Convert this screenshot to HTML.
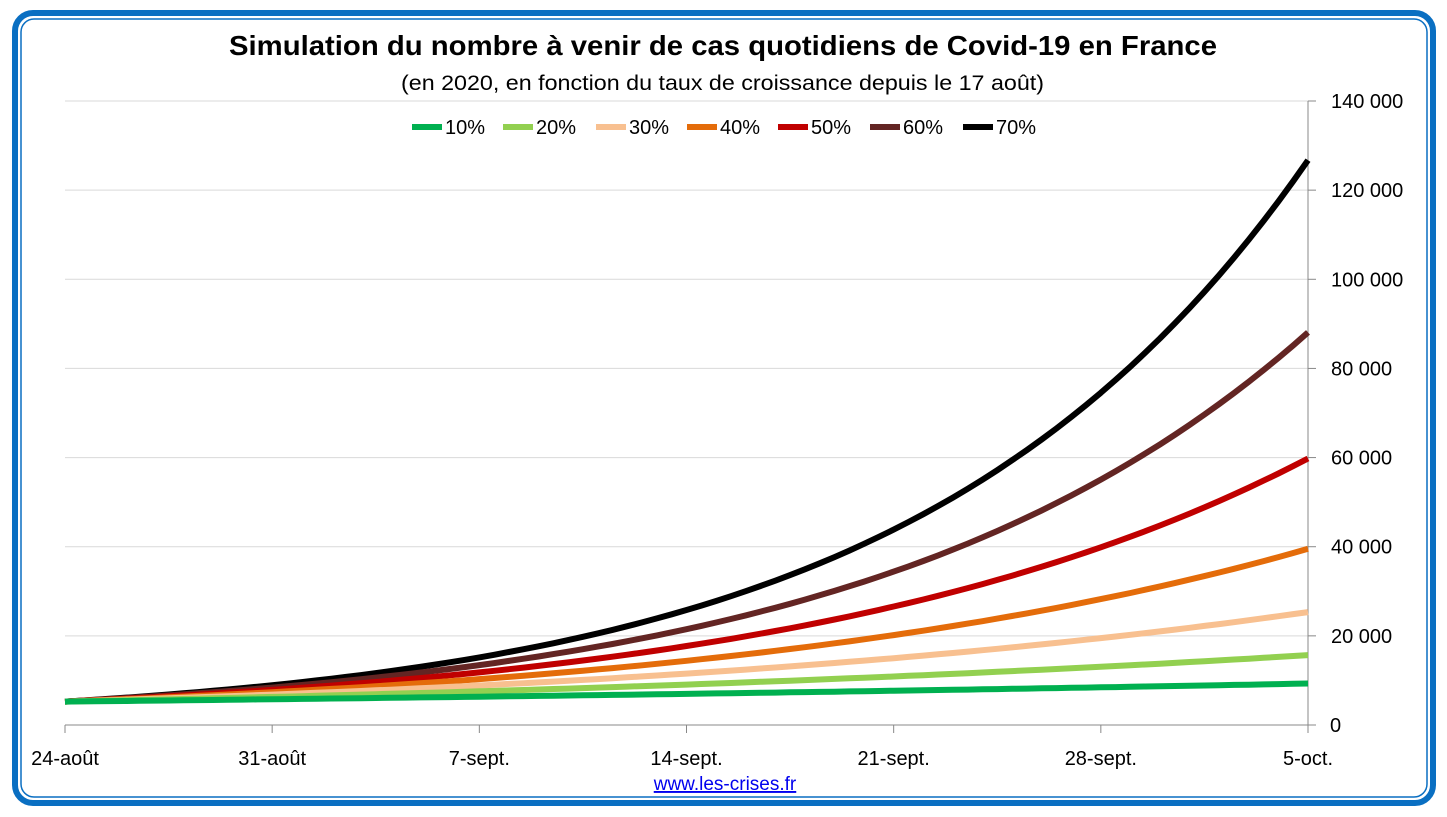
<!DOCTYPE html>
<html><head><meta charset="utf-8"><style>
body{margin:0;background:#fff;}
svg{display:block;font-family:"Liberation Sans",sans-serif;}
</style></head><body>
<svg id="s" width="1447" height="817" xmlns="http://www.w3.org/2000/svg">
<rect x="0" y="0" width="1447" height="817" fill="#fff"/>
<rect x="15" y="13" width="1418" height="790" rx="18" fill="none" stroke="#0a6fc2" stroke-width="6"/>
<rect x="21" y="19" width="1406" height="778" rx="13" fill="none" stroke="#0a6fc2" stroke-width="1.5"/>
<text x="229" y="55" textLength="988" lengthAdjust="spacingAndGlyphs" font-size="28" font-weight="bold">Simulation du nombre à venir de cas quotidiens de Covid-19 en France</text>
<text x="401" y="90" textLength="643" lengthAdjust="spacingAndGlyphs" font-size="21">(en 2020, en fonction du taux de croissance depuis le 17 août)</text>
<g id="grid" stroke="#d9d9d9" stroke-width="1"></g>
<line x1="1308" y1="101" x2="1308" y2="733" stroke="#888"/>
<line x1="65" y1="725" x2="1316" y2="725" stroke="#888"/>
<g id="ticks" stroke="#888"></g>
<g id="ylab" font-size="20"></g>
<g id="xlab" font-size="20" text-anchor="middle"></g>
<g id="series" fill="none" stroke-width="6" stroke-linejoin="round"></g>
<g id="legend" font-size="20"></g>
<text x="725" y="790" text-anchor="middle" font-size="19" fill="#0000ee" text-decoration="underline">www.les-crises.fr</text>
</svg>
<script>
var NS="http://www.w3.org/2000/svg";
function el(p,t,a,txt){var e=document.createElementNS(NS,t);for(var k in a)e.setAttribute(k,a[k]);if(txt!=null)e.textContent=txt;document.getElementById(p).appendChild(e);return e;}
var Y=function(v){return 725-v*624/140000;},X=function(d){return 65+d*1243/42;};
for(var i=1;i<=7;i++){el("grid","line",{x1:65,x2:1308,y1:Y(i*20000),y2:Y(i*20000)});}
var yl=["0","20 000","40 000","60 000","80 000","100 000","120 000","140 000"];
for(i=0;i<=7;i++){el("ticks","line",{x1:1308,x2:1316,y1:Y(i*20000),y2:Y(i*20000)});
el("ylab","text",{x:i==0?1330:1331,y:Y(i*20000)+7},yl[i]);}
var xl=["24-août","31-août","7-sept.","14-sept.","21-sept.","28-sept.","5-oct."];
for(i=0;i<7;i++){var x=X(i*7);el("ticks","line",{x1:x,x2:x,y1:725,y2:733});el("xlab","text",{x:x,y:765},xl[i]);}
var cols=["#00b050","#92d050","#f8c090","#e46c0a","#c00000","#632523","#000000"];
for(var s=6;s>=0;s--){var g=1+(s+1)/10,pts=[];
for(var d=0;d<=42;d+=0.5){pts.push(X(d).toFixed(1)+","+Y(5250*Math.pow(g,d/7)).toFixed(1));}
el("series","polyline",{points:pts.join(" "),stroke:cols[s]});}
var lx=[412,503,596,687,778,870,963];
for(i=0;i<7;i++){el("legend","line",{x1:lx[i],x2:lx[i]+30,y1:127,y2:127,stroke:cols[i],"stroke-width":6});
el("legend","text",{x:lx[i]+33,y:134},((i+1)*10)+"%");}
</script>
</body></html>
